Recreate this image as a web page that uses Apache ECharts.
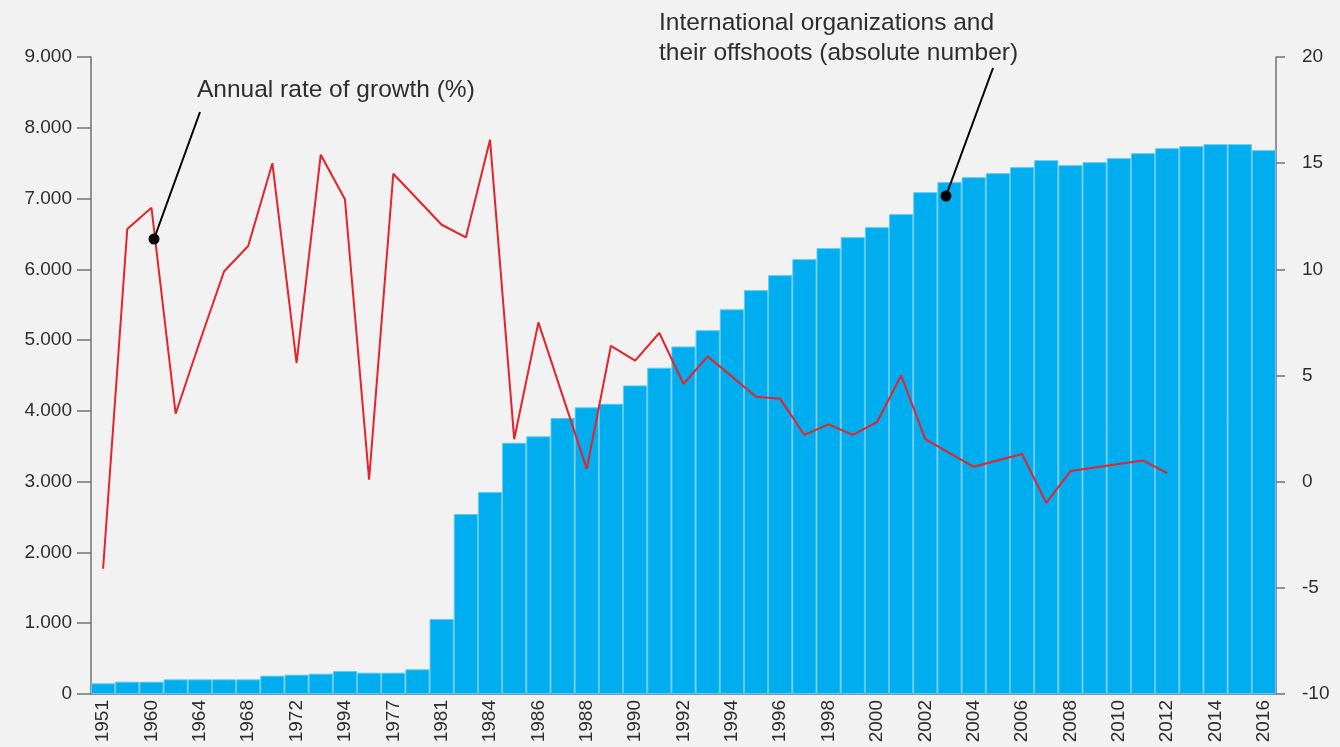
<!DOCTYPE html>
<html>
<head>
<meta charset="utf-8">
<script src="https://cdn.jsdelivr.net/npm/echarts@6/dist/echarts.min.js"></script>
<style>
  html, body { margin: 0; padding: 0; background: #f2f2f2; }
  #chart { width: 1340px; height: 747px; }
</style>
</head>
<body>
<div id="chart"></div>
<script>
// category labels as printed on the axis (only every other one is shown)
const years = [
  "1951", "1956", "1960", "1962", "1964", "1966", "1968", "1970", "1972", "1974",
  "1994", "1976", "1977", "1978", "1981", "1983", "1984", "1985", "1986", "1987",
  "1988", "1989", "1990", "1991", "1992", "1993", "1994", "1995", "1996", "1997",
  "1998", "1999", "2000", "2001", "2002", "2003", "2004", "2005", "2006", "2007",
  "2008", "2009", "2010", "2011", "2012", "2013", "2014", "2015", "2016"
];

// international organizations and their offshoots (absolute number)
const orgCount = [
  151, 174, 174, 207, 207, 207, 207, 259, 273, 287,
  325, 301, 301, 349, 1059, 2542, 2853, 3550, 3640, 3900,
  4050, 4100, 4360, 4610, 4910, 5140, 5435, 5706, 5918, 6144,
  6299, 6455, 6596, 6780, 7090, 7232, 7302, 7359, 7444, 7542,
  7472, 7514, 7571, 7641, 7712, 7740, 7768, 7768, 7684
];

// annual rate of growth (%), null = no point of its own
const growthRate = [
  -4.1, 11.9, 12.9, 3.2, 6.6, 9.9, 11.1, 15.0, 5.6, 15.4,
  13.3, 0.1, 14.5, 13.3, 12.1, 11.5, 16.1, 2.0, 7.5, null,
  0.6, 6.4, 5.7, 7.0, 4.6, 5.9, null, 4.0, 3.9, 2.2,
  2.7, 2.2, 2.8, 5.0, 2.0, null, 0.7, null, 1.3, -1.0,
  0.5, null, null, 1.0, 0.4, null, null, null, null
];

const leftTicks = { min: 0, max: 9000, interval: 1000 };
const rightTicks = { min: -10, max: 20, interval: 5 };

const chart = echarts.init(document.getElementById("chart"));

const font = "'Liberation Sans', Arial, sans-serif";
const textColor = "#2e2e2e";
const axisGray = "#737373";

const dotted = (n) => String(n).replace(/\B(?=(\d{3})+(?!\d))/g, ".");

const options = {
  backgroundColor: "#f2f2f2",
  animation: false,
  grid: { left: 91, right: 64, top: 57, bottom: 53 },
  xAxis: {
    type: "category",
    data: years,
    boundaryGap: true,
    axisLine: { lineStyle: { color: axisGray, width: 1.5 } },
    axisTick: { show: false },
    axisLabel: {
      interval: 1,
      rotate: 90,
      margin: 6,
      fontSize: 19,
      fontFamily: font,
      color: textColor,
    },
  },
  yAxis: [
    {
      type: "value",
      position: "left",
      min: leftTicks.min,
      max: leftTicks.max,
      interval: leftTicks.interval,
      splitLine: { show: false },
      axisLine: { show: true, lineStyle: { color: axisGray, width: 1.5 } },
      axisTick: { show: true, length: 14, lineStyle: { color: axisGray, width: 1.5 } },
      axisLabel: {
        margin: 19,
        fontSize: 19,
        fontFamily: font,
        color: textColor,
        formatter: (v) => dotted(v),
      },
    },
    {
      type: "value",
      position: "right",
      min: rightTicks.min,
      max: rightTicks.max,
      interval: rightTicks.interval,
      splitLine: { show: false },
      axisLine: { show: true, lineStyle: { color: axisGray, width: 1.5 } },
      axisTick: { show: true, length: 9, lineStyle: { color: axisGray, width: 1.5 } },
      axisLabel: {
        margin: 26,
        fontSize: 19,
        fontFamily: font,
        color: textColor,
      },
    },
  ],
  series: [
    {
      name: "International organizations",
      type: "bar",
      yAxisIndex: 0,
      data: orgCount,
      barCategoryGap: "0%",
      itemStyle: {
        color: "#00adee",
        borderColor: "#5ccaf3",
        borderWidth: 1,
      },
    },
    {
      name: "Annual rate of growth",
      type: "line",
      yAxisIndex: 1,
      data: growthRate,
      connectNulls: true,
      showSymbol: false,
      symbol: "none",
      lineStyle: { color: "#e8222b", width: 2 },
      z: 5,
    },
  ],
  graphic: [
    {
      type: "text",
      left: 197,
      top: 78,
      style: {
        text: "Annual rate of growth (%)",
        font: "24.5px " + font,
        fill: textColor,
      },
      z: 10,
    },
    {
      type: "line",
      shape: { x1: 200, y1: 112, x2: 154, y2: 239 },
      style: { stroke: "#000", lineWidth: 2 },
      z: 10,
    },
    {
      type: "circle",
      shape: { cx: 154, cy: 239, r: 5.5 },
      style: { fill: "#000" },
      z: 10,
    },
    {
      type: "text",
      left: 659,
      top: 8,
      style: {
        text: "International organizations and\ntheir offshoots (absolute number)",
        font: "24.5px " + font,
        lineHeight: 30,
        fill: textColor,
      },
      z: 10,
    },
    {
      type: "line",
      shape: { x1: 993, y1: 68, x2: 946, y2: 196 },
      style: { stroke: "#000", lineWidth: 2 },
      z: 10,
    },
    {
      type: "circle",
      shape: { cx: 946, cy: 196, r: 5.5 },
      style: { fill: "#000" },
      z: 10,
    },
  ],
};

chart.setOption(options);
</script>
</body>
</html>
